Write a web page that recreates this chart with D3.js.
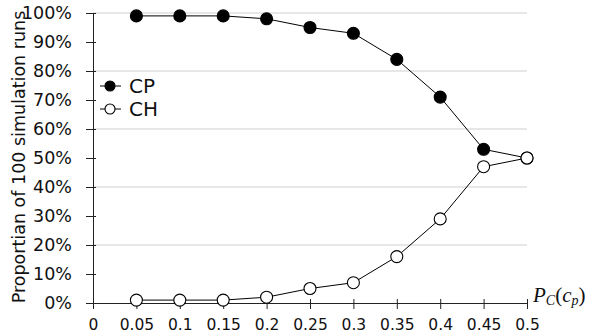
<!DOCTYPE html>
<html>
<head>
<meta charset="utf-8">
<script src="https://cdn.jsdelivr.net/npm/d3@7"></script>
<style>
  body { margin: 0; background: #fff; }
  svg { display: block; font-family: "DejaVu Sans", sans-serif; }
</style>
</head>
<body>
<script>
// probability values on the x axis
const probs = [0.05, 0.1, 0.15, 0.2, 0.25, 0.3, 0.35, 0.4, 0.45, 0.5];
// percent of runs
const cpVals = [99, 99, 99, 98, 95, 93, 84, 71, 53, 50];
const chVals = [1, 1, 1, 2, 5, 7, 16, 29, 47, 50];

const xTicks = [0, 0.05, 0.1, 0.15, 0.2, 0.25, 0.3, 0.35, 0.4, 0.45, 0.5];
const xTickLabels = ["0", "0.05", "0.1", "0.15", "0.2", "0.25", "0.3", "0.35", "0.4", "0.45", "0.5"];
const yTicks = [0, 10, 20, 30, 40, 50, 60, 70, 80, 90, 100];
const gridTicks = [20, 40, 60, 80, 100];

const width = 600, height = 336;
const margin = {top: 13, right: 73, bottom: 33, left: 93};

const svg = d3.select("body").append("svg")
    .attr("width", width)
    .attr("height", height);

const x = d3.scaleLinear().domain([0, 0.5]).range([margin.left, width - margin.right]);
const y = d3.scaleLinear().domain([0, 100]).range([height - margin.bottom, margin.top]);

// grid
svg.append("g").selectAll("line")
    .data(gridTicks)
    .join("line")
    .attr("x1", x(0)).attr("x2", x(0.5))
    .attr("y1", d => y(d)).attr("y2", d => y(d))
    .attr("stroke", "#cfcfcf")
    .attr("stroke-width", 1.2);

// x axis
const xAxis = svg.append("g")
    .attr("transform", "translate(0," + y(0) + ")")
    .call(d3.axisBottom(x).tickValues(xTicks).tickFormat((d, i) => xTickLabels[i]).tickSizeOuter(0).tickPadding(10));
xAxis.select(".domain").attr("stroke", "#222");
xAxis.selectAll(".tick line").attr("y1", -4).attr("y2", 6).attr("stroke", "#222");
xAxis.selectAll(".tick text").attr("font-size", 15.5).attr("font-family", "DejaVu Sans").attr("fill", "#111");

// y axis
const yAxis = svg.append("g")
    .attr("transform", "translate(" + x(0) + ",0)")
    .call(d3.axisLeft(y).tickValues(yTicks).tickFormat(d => d + "%").tickSizeOuter(0).tickPadding(15));
yAxis.select(".domain").attr("stroke", "#222");
yAxis.selectAll(".tick line").attr("x1", 3).attr("x2", -7).attr("stroke", "#222");
yAxis.selectAll(".tick text").attr("font-size", 17.5).attr("font-family", "DejaVu Sans").attr("fill", "#111");

// axis titles
svg.append("text")
    .attr("transform", "translate(25,157) rotate(-90)")
    .attr("text-anchor", "middle")
    .attr("font-size", 17.5)
    .attr("fill", "#111")
    .text("Proportian of 100 simulation runs");

const xl = svg.append("text")
    .attr("x", 533).attr("y", 302)
    .attr("font-family", "Liberation Serif, DejaVu Serif, serif")
    .attr("font-size", 21)
    .attr("fill", "#111");
xl.append("tspan").attr("font-style", "italic").text("P");
xl.append("tspan").attr("font-style", "italic").attr("font-size", 14).attr("dy", 3).text("C");
xl.append("tspan").attr("dy", -3).text("(");
xl.append("tspan").attr("font-style", "italic").text("c");
xl.append("tspan").attr("font-style", "italic").attr("font-size", 14).attr("dy", 3).text("p");
xl.append("tspan").attr("dy", -3).text(")");

// lines + markers
const line = d3.line()
    .x((d, i) => x(probs[i]))
    .y(d => y(d));

const series = [
    {name: "CP", vals: cpVals, fill: "#000"},
    {name: "CH", vals: chVals, fill: "#fff"}
];

series.forEach(s => {
    svg.append("path")
        .attr("d", line(s.vals))
        .attr("fill", "none")
        .attr("stroke", "#000")
        .attr("stroke-width", 1);
});

series.forEach(s => {
    svg.append("g").selectAll("circle")
        .data(s.vals)
        .join("circle")
        .attr("cx", (d, i) => x(probs[i]))
        .attr("cy", d => y(d))
        .attr("r", 6)
        .attr("fill", s.fill)
        .attr("stroke", "#000")
        .attr("stroke-width", 1.1);
});

// legend
const legend = svg.append("g");
series.forEach((s, i) => {
    const ly = 86 + i * 23;
    legend.append("line")
        .attr("x1", 100).attr("x2", 121)
        .attr("y1", ly).attr("y2", ly)
        .attr("stroke", "#000");
    legend.append("circle")
        .attr("cx", 110).attr("cy", ly).attr("r", 5)
        .attr("fill", s.fill).attr("stroke", "#000").attr("stroke-width", 1.1);
    legend.append("text")
        .attr("x", 129).attr("y", ly + 7)
        .attr("font-size", 20)
        .attr("fill", "#111")
        .text(s.name);
});
</script>
</body>
</html>
